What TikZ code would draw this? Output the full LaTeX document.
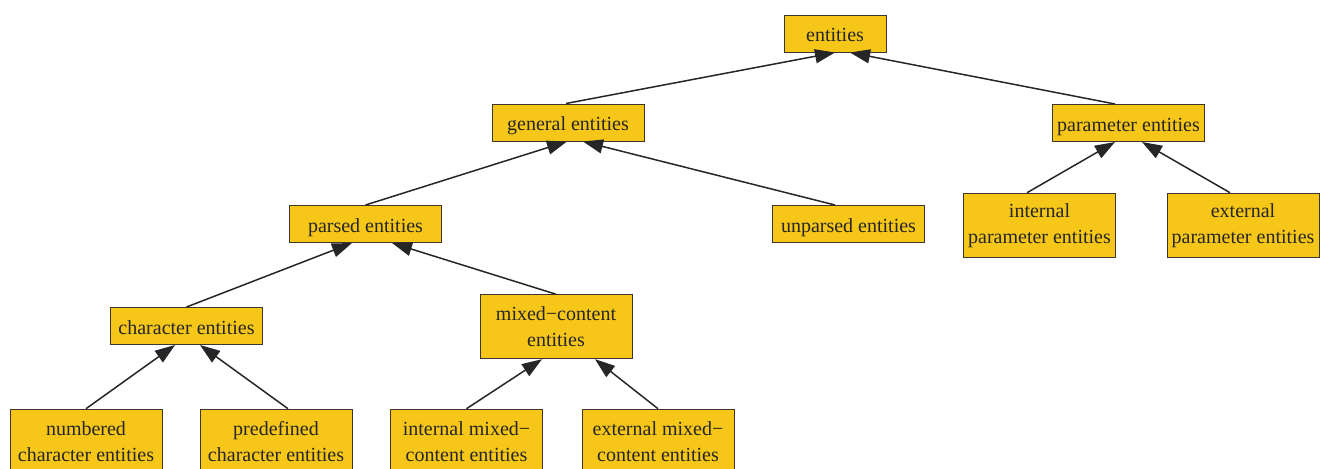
\documentclass[tikz,border=0pt]{standalone}
\usepackage{fontspec}
\setmainfont{Liberation Serif}
\usetikzlibrary{arrows.meta}

\definecolor{entgold}{RGB}{246,198,24}
\definecolor{entline}{RGB}{60,55,45}

\tikzset{
  every entity/.style={draw=entline, line width=0.5pt, fill=entgold,
    text=black!85, align=center, inner sep=1pt,
    font=\fontsize{10}{13}\selectfont,
    text height=8.2pt, text depth=0pt,
    minimum width=76pt, minimum height=18.5pt},
  two line entity/.style={minimum height=32pt, text height=, text depth=,
    yshift=-0.6pt},
  edge/.style={draw=black!85, line width=0.75pt,
    -{Triangle[length=10pt, width=7pt]}}
}

\begin{document}
\begin{tikzpicture}[x=1pt, y=1pt]
\useasboundingbox (0,0) rectangle (660,-234);

% top levels
\node [every entity, minimum width=51pt] (ent)   at (417.5,-16.75) {entities};
\node [every entity] (gen)    at (284,-61.25)    {general entities};
\node [every entity] (par)    at (564.25,-61.5)  {parameter entities};
\node [every entity] (parsed) at (182.75,-112)   {parsed entities};
\node [every entity] (unpar)  at (424.25,-112)   {unparsed entities};
\node [every entity, two line entity] (intpar) at (519.75,-112) {internal\\parameter entities};
\node [every entity, two line entity] (extpar) at (621.5,-112)  {external\\parameter entities};
\node [every entity] (char)   at (93.25,-163)    {character entities};
\node [every entity, two line entity] (mixed)  at (278,-162.75) {mixed−content\\entities};

% leaves
\node [every entity, two line entity] (numb)   at (43,-220)     {numbered\\character entities};
\node [every entity, two line entity] (predef) at (138,-220)    {predefined\\character entities};
\node [every entity, two line entity] (intmix) at (233.25,-220) {internal mixed−\\content entities};
\node [every entity, two line entity] (extmix) at (329,-220)    {external mixed−\\content entities};

% child -> parent, tail shift / head shift
\foreach \c/\tc/\p/\hp in {gen/-1/ent/0, par/-6.75/ent/7.5,
    parsed/0/gen/-0.5, unpar/-6.75/gen/7.5,
    char/0/parsed/-6.75, mixed/0/parsed/13.25,
    numb/0/char/-5.75, predef/6/char/6.75,
    intmix/0/mixed/-7, extmix/0/mixed/19.5,
    intpar/-6.25/par/-6.75, extpar/-6.5/par/6.75}
  \draw [edge] ([xshift=\tc pt]\c.north) -- ([xshift=\hp pt]\p.south);
\end{tikzpicture}
\end{document}
